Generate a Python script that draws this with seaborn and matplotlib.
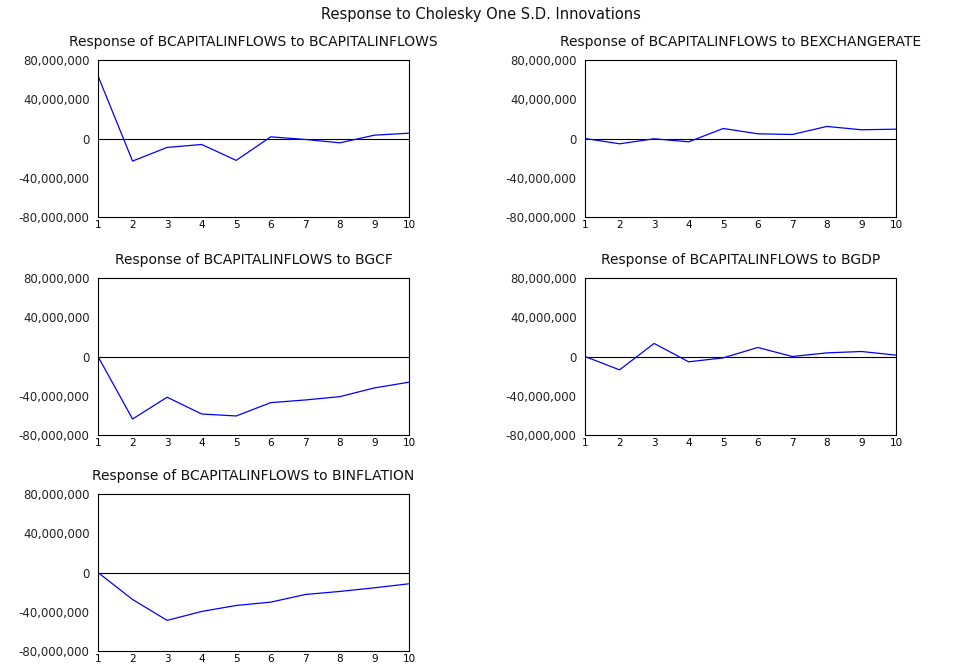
"""Impulse responses of BCAPITALINFLOWS (Cholesky one S.D. innovations)."""
import matplotlib
matplotlib.use("Agg")
import matplotlib.pyplot as plt
import matplotlib.ticker as mticker
import pandas as pd
import seaborn as sns

periods = [1, 2, 3, 4, 5, 6, 7, 8, 9, 10]

resp_capitalinflows = [63.8, -23.0, -9.1, -6.1, -22.3, 1.7, -1.0, -4.4, 3.4, 5.4]
resp_exchangerate = [0.0, -5.4, -0.3, -3.4, 10.2, 4.8, 4.1, 12.3, 8.9, 9.5]
resp_gcf = [0.0, -63.7, -41.5, -58.6, -60.6, -47.0, -44.3, -40.9, -32.0, -26.2]
resp_gdp = [0.0, -13.6, 13.3, -5.4, -1.4, 9.2, 0.0, 3.7, 5.1, 1.4]
resp_inflation = [0.0, -27.5, -48.8, -39.7, -33.6, -30.2, -22.4, -19.3, -15.6, -11.5]

shocks = ["BCAPITALINFLOWS", "BEXCHANGERATE", "BGCF", "BGDP", "BINFLATION"]
y_ticks = [-80e6, -40e6, 0, 40e6, 80e6]

sns.set_style("white")
plt.rcParams["font.family"] = ["DejaVu Sans"]

fig = plt.figure(figsize=(9.62, 6.66), dpi=100)
W, H = 962, 666
# axes boxes in pixels: left, top, right, bottom
boxes = [
    (98, 60, 409, 217),
    (585, 60, 896, 217),
    (98, 278, 409, 435),
    (585, 278, 896, 435),
    (98, 494, 409, 651),
]
series = [resp_capitalinflows, resp_exchangerate, resp_gcf, resp_gdp, resp_inflation]

for (l, t, r, b), shock, vals in zip(boxes, shocks, series):
    ax = fig.add_axes([l / W, 1 - b / H, (r - l) / W, (b - t) / H])
    df = pd.DataFrame({"period": periods, "value": [v * 1e6 for v in vals]})
    ax.axhline(0, color="black", lw=0.8)
    sns.lineplot(data=df, x="period", y="value", ax=ax, color="#0000ff", lw=0.9)
    ax.set_xlim(1, 10)
    ax.set_ylim(-80e6, 80e6)
    ax.set_xticks(periods)
    ax.set_yticks(y_ticks)
    ax.yaxis.set_major_formatter(mticker.FuncFormatter(lambda v, p: f"{v:,.0f}"))
    ax.tick_params(axis="x", direction="out", length=2, width=0.8,
                   labelsize=7.5, colors="black", pad=0)
    ax.tick_params(axis="y", direction="out", length=5, width=0.8,
                   labelsize=8.5, colors="#222222", pad=1)
    ax.set_xlabel("")
    ax.set_ylabel("")
    for s in ax.spines.values():
        s.set_color("black")
        s.set_linewidth(0.8)
    ax.set_title(f"Response of BCAPITALINFLOWS to {shock}", fontsize=10,
                 pad=10, color="#111111")

fig.text(0.5, 1 - 15 / H, "Response to Cholesky One S.D. Innovations",
         ha="center", va="center", fontsize=10.5, color="#111111")

fig.savefig("out.png", dpi=100)
